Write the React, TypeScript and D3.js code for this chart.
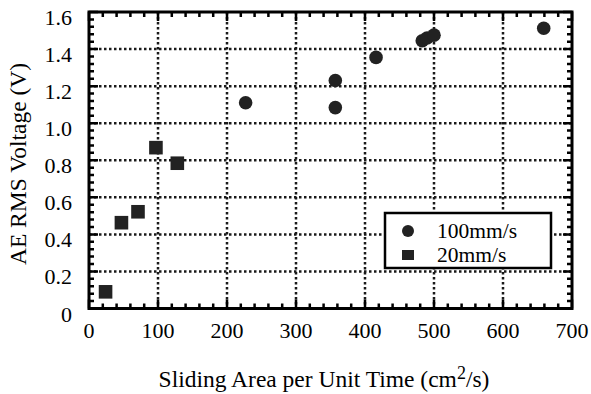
import React from "react";
import * as d3 from "d3";

const circleX = [227, 357, 357, 416, 483, 490, 500, 659];
const circleY = [1.11, 1.23, 1.084, 1.355, 1.445, 1.46, 1.475, 1.512];
const squareX = [24, 47, 71, 97, 128];
const squareY = [0.09, 0.463, 0.522, 0.868, 0.784];
const xTicks = [0, 100, 200, 300, 400, 500, 600, 700];
const yTicks = [0, 0.2, 0.4, 0.6, 0.8, 1.0, 1.2, 1.4, 1.6];
const yTickLabels = ["0", "0.2", "0.4", "0.6", "0.8", "1.0", "1.2", "1.4", "1.6"];
const legendLabels = ["100mm/s", "20mm/s"];

const W = 591, H = 394;
const L = 89, R = 572, T = 12, B = 308.5;
const FONT = "Liberation Serif, Times New Roman, DejaVu Serif, serif";
const ink = "#000";
const txt: React.CSSProperties = { fontFamily: FONT, fontSize: 22, fill: ink };
const title: React.CSSProperties = { fontFamily: FONT, fontSize: 23.5, fill: ink };

export default function App() {
  const x = d3.scaleLinear().domain([0, 700]).range([L, R]);
  const y = d3.scaleLinear().domain([0, 1.6]).range([B, T]);
  const xMinor = d3.range(0, 701, 20);
  const yMinor = d3.range(0, 41).map((i) => i * 0.04);
  const gridPath =
    xTicks.slice(1, -1).map((t) => `M${x(t)},${T}V${B}`).join("") +
    yTicks.slice(1, -1).map((t) => `M${L},${y(t)}H${R}`).join("");
  const tickPath =
    xMinor.map((t, i) => {
      const len = i % 5 === 0 ? 9 : 5;
      return `M${x(t)},${B}v${-len}M${x(t)},${T}v${len}`;
    }).join("") +
    yMinor.map((t, i) => {
      const len = i % 5 === 0 ? 9 : 5;
      return `M${L},${y(t)}h${len}M${R},${y(t)}h${-len}`;
    }).join("");
  return (
    <svg width={W} height={H} viewBox={`0 0 ${W} ${H}`} style={{ position: "absolute", left: 0, top: 0, background: "#fff" }}>
      <rect x={0} y={0} width={W} height={H} fill="#fff" />
      <path d={gridPath} fill="none" stroke="#1a1a1a" strokeWidth={2.5} strokeDasharray="2.5,2.5" />
      <path d={tickPath} fill="none" stroke={ink} strokeWidth={2.5} />
      <rect x={L} y={T} width={R - L} height={B - T} fill="none" stroke={ink} strokeWidth={3} />
      {xTicks.map((t) => (
        <text key={"xl" + t} x={x(t)} y={338} textAnchor="middle" style={txt}>
          {t}
        </text>
      ))}
      {yTicks.map((t, i) => (
        <text key={"yl" + t} x={72} y={y(t) + 13} textAnchor="end" style={txt}>
          {yTickLabels[i]}
        </text>
      ))}
      <text x={324} y={387} textAnchor="middle" style={title}>
        Sliding Area per Unit Time (cm<tspan dy={-8} style={{ fontSize: 18 }}>2</tspan><tspan dy={8}>/s)</tspan>
      </text>
      <text transform="translate(26,164) rotate(-90)" textAnchor="middle" style={title}>
        AE RMS Voltage (V)
      </text>
      {circleX.map((v, i) => (
        <circle key={"c" + i} cx={x(v)} cy={y(circleY[i])} r={6.8} fill="#222" />
      ))}
      {squareX.map((v, i) => (
        <rect key={"s" + i} x={x(v) - 6.8} y={y(squareY[i]) - 6.8} width={13.6} height={13.6} fill="#222" />
      ))}
      <rect x={385} y={213} width={166} height={55} fill="#fff" stroke={ink} strokeWidth={2.5} />
      <circle cx={408} cy={231} r={6} fill="#222" />
      <rect x={402} y={250} width={12} height={10} fill="#222" />
      <text x={437} y={238} style={{ ...txt, fontSize: 21.5 }}>{legendLabels[0]}</text>
      <text x={437} y={262} style={{ ...txt, fontSize: 21.5 }}>{legendLabels[1]}</text>
    </svg>
  );
}
